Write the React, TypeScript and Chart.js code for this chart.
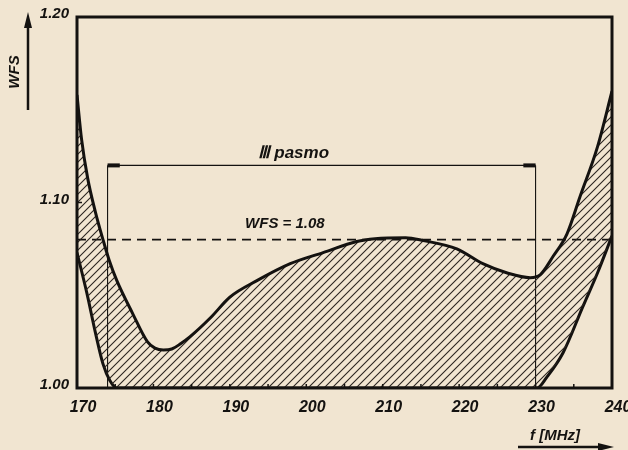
import React, { useEffect, useRef } from "react";
import { Chart, registerables } from "chart.js";

Chart.register(...registerables);

// Frequency axis (MHz) and WFS axis
const freqMin = 170;
const freqMax = 240;
const freqStep = 10;
const wfsMin = 1.0;
const wfsMax = 1.2;
const wfsStep = 0.1;

// Outer curve (upper envelope)
const curveAFreq = [170, 170.6, 171.4, 172.4, 173.4, 174.2, 175.2, 177.3, 179.2, 180.2, 181.3, 182.4, 183.6, 184.8, 187.5, 190, 193.6, 197.9, 202.2, 206.6, 209, 213, 215.3, 219.7, 223.1, 226.3, 229.3, 230.6, 232.3, 234.1, 235.8, 238.1, 240];
const curveAWfs = [1.158, 1.134, 1.113, 1.095, 1.08, 1.069, 1.058, 1.04, 1.025, 1.0215, 1.0205, 1.021, 1.024, 1.0277, 1.038, 1.049, 1.058, 1.067, 1.073, 1.079, 1.0805, 1.081, 1.0795, 1.075, 1.067, 1.062, 1.0595, 1.061, 1.071, 1.083, 1.103, 1.13, 1.16];

// Inner curve (lower envelope)
const curveBFreq = [170, 171.3, 172.4, 173.4, 174.3, 175.2, 200, 230.2, 231.5, 233.6, 236.2, 238.1, 240];
const curveBWfs = [1.073, 1.051, 1.03, 1.013, 1.004, 1.0, 1.0, 1.0, 1.006, 1.019, 1.044, 1.062, 1.082];

// Band III and WFS limit
const bandStart = 174;
const bandEnd = 230;
const bandLevel = 1.12;
const wfsLimit = 1.08;
const minorFreqTicks = [175, 180, 185, 190, 195, 200, 205, 210, 215, 220, 225, 230, 235];
const minorWfsTicks = [1.1];

const paper = "#f1e5d1";
const ink = "#141210";
const labelFont = "'Liberation Sans Narrow', 'Liberation Sans', Arial, sans-serif";

function makeHatch(): CanvasPattern | string {
  const c = document.createElement("canvas");
  c.width = 8;
  c.height = 8;
  const g = c.getContext("2d");
  if (!g) return "rgba(0,0,0,0.2)";
  g.strokeStyle = "#2b2520";
  g.lineWidth = 1.1;
  g.beginPath();
  g.moveTo(0, 8);
  g.lineTo(8, 0);
  g.moveTo(-1, 1);
  g.lineTo(1, -1);
  g.moveTo(7, 9);
  g.lineTo(9, 7);
  g.stroke();
  const p = g.createPattern(c, "repeat");
  return p || "rgba(0,0,0,0.2)";
}

const overlay = {
  id: "overlay",
  beforeDraw(chart: any) {
    const ctx = chart.ctx;
    ctx.save();
    ctx.fillStyle = paper;
    ctx.fillRect(0, 0, chart.width, chart.height);
    ctx.restore();
  },
  afterDraw(chart: any) {
    const ctx = chart.ctx;
    const a = chart.chartArea;
    const xs = chart.scales.x;
    const ys = chart.scales.y;
    ctx.save();
    // frame
    ctx.strokeStyle = ink;
    ctx.lineWidth = 3;
    ctx.strokeRect(a.left, a.top, a.right - a.left, a.bottom - a.top);
    // inner minor ticks
    ctx.lineWidth = 1.5;
    ctx.beginPath();
    minorFreqTicks.forEach((f) => {
      const px = xs.getPixelForValue(f);
      ctx.moveTo(px, a.bottom);
      ctx.lineTo(px, a.bottom - 4);
    });
    minorWfsTicks.forEach((w) => {
      const py = ys.getPixelForValue(w);
      ctx.moveTo(a.left, py);
      ctx.lineTo(a.left + 5, py);
    });
    ctx.stroke();

    // texts in the plot
    ctx.fillStyle = ink;
    ctx.textAlign = "center";
    ctx.textBaseline = "middle";
    ctx.font = `italic bold 17px ${labelFont}`;
    ctx.fillText("Ⅲ pasmo", xs.getPixelForValue(198.3), ys.getPixelForValue(1.1265));
    ctx.font = `italic bold 15px ${labelFont}`;
    ctx.fillText("WFS = 1.08", xs.getPixelForValue(197.2), ys.getPixelForValue(1.0885));

    // y axis title with arrow
    ctx.save();
    ctx.translate(15, 72);
    ctx.rotate(-Math.PI / 2);
    ctx.font = `italic bold 15px ${labelFont}`;
    ctx.fillText("WFS", 0, 0);
    ctx.restore();
    ctx.lineWidth = 2.5;
    ctx.beginPath();
    ctx.moveTo(28, 110);
    ctx.lineTo(28, 24);
    ctx.stroke();
    ctx.beginPath();
    ctx.moveTo(28, 12);
    ctx.lineTo(24, 28);
    ctx.lineTo(32, 28);
    ctx.closePath();
    ctx.fill();

    // x axis title with arrow
    ctx.font = `italic bold 15px ${labelFont}`;
    ctx.textAlign = "center";
    ctx.fillText("f [MHz]", 555, 436);
    ctx.lineWidth = 2.5;
    ctx.beginPath();
    ctx.moveTo(518, 447);
    ctx.lineTo(600, 447);
    ctx.stroke();
    ctx.beginPath();
    ctx.moveTo(614, 447);
    ctx.lineTo(598, 443);
    ctx.lineTo(598, 451);
    ctx.closePath();
    ctx.fill();
    ctx.restore();
  },
};

export default function App() {
  const ref = useRef<HTMLCanvasElement | null>(null);

  useEffect(() => {
    if (!ref.current) return;
    const hatch = makeHatch();
    const pts = (xs: number[], ys: number[]) => xs.map((x, i) => ({ x, y: ys[i] }));
    const line = (data: any[], width: number, extra: any = {}) => ({
      data,
      borderColor: ink,
      borderWidth: width,
      pointRadius: 0,
      fill: false,
      tension: 0,
      ...extra,
    });
    const chart = new Chart(ref.current, {
      type: "line",
      data: {
        datasets: [
          line(pts(curveAFreq, curveAWfs), 3, {
            cubicInterpolationMode: "monotone",
            fill: { target: 1 },
            backgroundColor: hatch,
          }),
          line(pts(curveBFreq, curveBWfs), 3, { cubicInterpolationMode: "monotone" }),
          line([{ x: freqMin, y: wfsLimit }, { x: freqMax, y: wfsLimit }], 1.6, { borderDash: [9, 6] }),
          line([{ x: bandStart, y: wfsMin }, { x: bandStart, y: bandLevel }], 1.1),
          line([{ x: bandEnd, y: wfsMin }, { x: bandEnd, y: bandLevel }], 1.1),
          line([{ x: bandStart, y: bandLevel }, { x: bandEnd, y: bandLevel }], 1.3),
          line([{ x: bandStart, y: bandLevel }, { x: bandStart + 1.6, y: bandLevel }], 4),
          line([{ x: bandEnd - 1.6, y: bandLevel }, { x: bandEnd, y: bandLevel }], 4),
        ],
      },
      options: {
        responsive: false,
        animation: false,
        layout: { padding: { top: 17, right: 16, left: 0, bottom: 0 } },
        plugins: { legend: { display: false }, tooltip: { enabled: false } },
        scales: {
          x: {
            type: "linear",
            min: freqMin,
            max: freqMax,
            grid: { display: false, drawTicks: false },
            border: { display: false },
            ticks: {
              stepSize: freqStep,
              color: ink,
              padding: 10,
              labelOffset: 6,
              maxRotation: 0,
              font: { family: labelFont, size: 16, style: "italic", weight: "bold" },
            },
            afterFit: (s: any) => {
              s.height = 62;
              s.paddingLeft = 0;
              s.paddingRight = 0;
            },
          },
          y: {
            type: "linear",
            min: wfsMin,
            max: wfsMax,
            grid: { display: false, drawTicks: false },
            border: { display: false },
            ticks: {
              stepSize: wfsStep,
              color: ink,
              padding: 8,
              labelOffset: -3,
              callback: (v: any) => Number(v).toFixed(2),
              font: { family: labelFont, size: 15, style: "italic", weight: "bold" },
            },
            afterFit: (s: any) => {
              s.width = 77;
              s.paddingTop = 0;
              s.paddingBottom = 0;
            },
          },
        },
      },
      plugins: [overlay],
    });
    return () => chart.destroy();
  }, []);

  return (
    <div style={{ position: "fixed", left: 0, top: 0, width: 628, height: 450, background: paper }}>
      <canvas ref={ref} width={628} height={450} />
    </div>
  );
}
